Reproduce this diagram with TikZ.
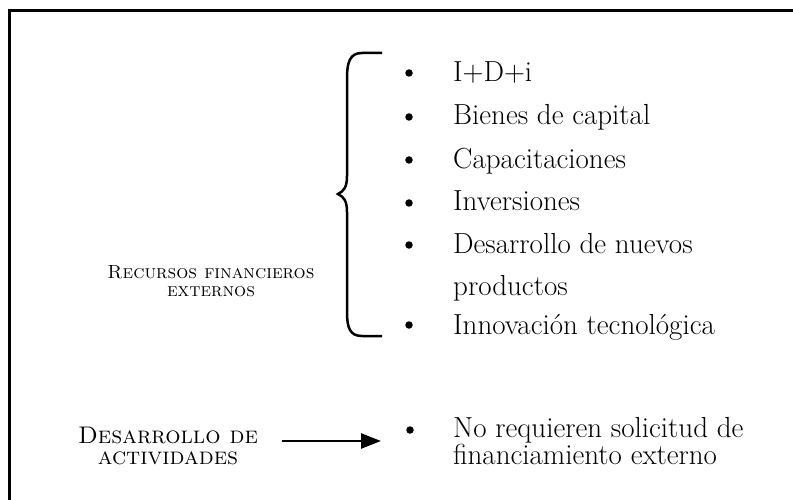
\documentclass[tikz,border=0pt]{standalone}
\usepackage{fontspec}
\usetikzlibrary{arrows.meta}

\begin{document}
\begin{tikzpicture}[x=1pt,y=-1pt,
    frameline/.style ={line width=3pt},
    sidelabel/.style ={align=center, inner sep=0pt, font=\fontsize{19}{18}\selectfont\scshape},
    biglabel/.style ={align=center, inner sep=0pt, font=\fontsize{24}{21}\selectfont\scshape},
    entry/.style ={anchor=base west, inner sep=0pt, font=\fontsize{29}{30}\selectfont},
    bulletdot/.style ={circle, fill, inner sep=0pt, minimum size=7.5pt}]
   \useasboundingbox (0,0) rectangle (793,500);
   % frame
   \draw[frameline] (9.5,500) -- (9.5,11) -- (793,11);
   % left labels
   \node[sidelabel] (rec) at (211,281) {Recursos financieros\\externos};
   \node[biglabel] (act) at (168,446) {Desarrollo de\\actividades};
   % brace
   \coordinate (bt) at (382,53);
   \coordinate (bb) at (382,336);
   \draw[line width=2.5pt] (bt) -- (362,53) .. controls (350,53) and (347,62) .. (347,78)
      -- (347,176) .. controls (347,187) and (344,191) .. (338,194)
      .. controls (344,197) and (347,201) .. (347,212)
      -- (347,312) .. controls (347,328) and (350,336) .. (362,336) -- (bb);
   % items
   \node[bulletdot] (d1) at (409,73) {};
   \node[bulletdot] (d2) at (409,117) {};
   \node[bulletdot] (d3) at (409,160) {};
   \node[bulletdot] (d4) at (409,203) {};
   \node[bulletdot] (d5) at (409,245) {};
   \node[bulletdot] (d6) at (409,325) {};
   \node[entry] (i1) at (453,82) {I+D+i};
   \node[entry] (i2) at (453,125) {Bienes de capital};
   \node[entry] (i3) at (453,168) {Capacitaciones};
   \node[entry] (i4) at (453,211) {Inversiones};
   \node[entry] (i5) at (453,253) {Desarrollo de nuevos};
   \node[entry] (i5b) at (453,295) {productos};
   \node[entry] (i6) at (453,334) {Innovación tecnológica};
   % bottom row
   \coordinate (as) at (282,441);
   \coordinate (ae) at (381,441);
   \draw[line width=2.5pt, -{Triangle[length=20pt,width=15pt]}] (as) -- (ae);
   \node[bulletdot] (d7) at (410,430) {};
   \node[entry] (n1) at (453,437) {No requieren solicitud de};
   \node[entry] (n2) at (453,464) {financiamiento externo};
 \end{tikzpicture}
\end{document}
